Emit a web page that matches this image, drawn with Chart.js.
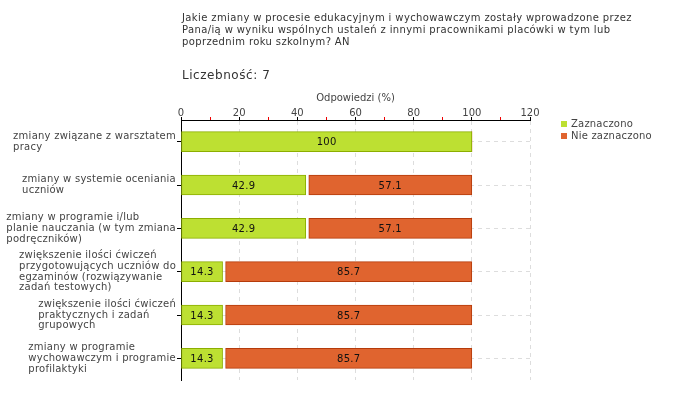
<!DOCTYPE html>
<html>
<head>
<meta charset="utf-8">
<script src="https://cdn.jsdelivr.net/npm/chart.js@4"></script>
<style>
  html, body { margin: 0; padding: 0; background: #fff; }
  #wrap { width: 680px; height: 400px; }
</style>
</head>
<body>
<div id="wrap"><canvas id="chart" width="680" height="400"></canvas></div>
<script>
// Data
const titleLines = [
  "Jakie zmiany w procesie edukacyjnym i wychowawczym zostały wprowadzone przez",
  "Pana/ią w wyniku wspólnych ustaleń z innymi pracownikami placówki w tym lub",
  "poprzednim roku szkolnym? AN"
];
const countLabel = "Liczebność: 7";
const categories = [
  ["zmiany związane z warsztatem", "pracy"],
  ["zmiany w systemie oceniania", "uczniów"],
  ["zmiany w programie i/lub", "planie nauczania (w tym zmiana", "podręczników)"],
  ["zwiększenie ilości ćwiczeń", "przygotowujących uczniów do", "egzaminów (rozwiązywanie", "zadań testowych)"],
  ["zwiększenie ilości ćwiczeń", "praktycznych i zadań", "grupowych"],
  ["zmiany w programie", "wychowawczym i programie", "profilaktyki"]
];
const zaznaczono = [100, 42.9, 42.9, 14.3, 14.3, 14.3];
const nieZaznaczono = [0, 57.1, 57.1, 85.7, 85.7, 85.7];
const xTicks = [0, 20, 40, 60, 80, 100, 120];

const FONT = "'DejaVu Sans', Verdana, sans-serif";
const GREEN = "#bde032", GREEN_BORDER = "#8cae00";
const ORANGE = "#e0642f", ORANGE_BORDER = "#b53b0b";

// small gap between stacked segments
const gapPlugin = {
  id: "gap",
  afterDatasetsUpdate(chart) {
    chart.getDatasetMeta(1).data.forEach((el, i) => {
      if (nieZaznaczono[i]) el.base += 3;
    });
  }
};

// title, count, y labels, bar values, legend
const textPlugin = {
  id: "texts",
  afterDraw(chart) {
    const ctx = chart.ctx;
    ctx.save();
    ctx.textBaseline = "middle";
    ctx.textAlign = "left";

    ctx.fillStyle = "#333";
    ctx.font = "10px " + FONT;
    ctx.letterSpacing = "0.38px";
    titleLines.forEach((t, i) => ctx.fillText(t, 182, 18 + i * 12));
    ctx.font = "12px " + FONT;
    ctx.letterSpacing = "0.55px";
    ctx.fillText(countLabel, 182, 76);

    // category labels, left-aligned block ending at axis
    const y = chart.scales.y;
    ctx.font = "10px " + FONT;
    ctx.letterSpacing = "0.25px";
    ctx.fillStyle = "#444";
    const lh = 10.7;
    categories.forEach((lines, i) => {
      const cy = y.getPixelForValue(i);
      const w = Math.max(...lines.map(l => ctx.measureText(l).width));
      const x0 = 176 - w;
      const y0 = cy - (lines.length - 1) * lh / 2;
      lines.forEach((l, j) => ctx.fillText(l, x0, y0 + j * lh));
    });

    // values in bars
    ctx.letterSpacing = "0.3px";
    ctx.textAlign = "center";
    ctx.fillStyle = "#111";
    ctx.font = "10px " + FONT;
    chart.data.datasets.forEach((ds, di) => {
      chart.getDatasetMeta(di).data.forEach((el, i) => {
        const v = ds.data[i];
        if (!v) return;
        ctx.fillText(v.toFixed(v % 1 ? 1 : 0), (el.x + el.base) / 2, el.y + 1);
      });
    });

    // legend
    ctx.letterSpacing = "0.2px";
    ctx.textAlign = "left";
    ctx.font = "10px " + FONT;
    chart.data.datasets.forEach((ds, i) => {
      const ly = 124 + i * 12;
      ctx.fillStyle = ds.backgroundColor;
      ctx.fillRect(561, ly - 3, 6, 6);
      ctx.fillStyle = "#444";
      ctx.fillText(ds.label, 571, ly);
    });
    ctx.restore();
  }
};

new Chart(document.getElementById("chart"), {
  type: "bar",
  data: {
    labels: categories,
    datasets: [
      {
        label: "Zaznaczono",
        data: zaznaczono,
        backgroundColor: GREEN,
        borderColor: GREEN_BORDER,
        borderWidth: c => (c.raw ? 1 : 0),
        borderSkipped: false,
        barThickness: 20,
      },
      {
        label: "Nie zaznaczono",
        data: nieZaznaczono,
        backgroundColor: ORANGE,
        borderColor: ORANGE_BORDER,
        borderWidth: c => (c.raw ? 1 : 0),
        borderSkipped: false,
        barThickness: 20,
      },
    ],
  },
  options: {
    indexAxis: "y",
    responsive: false,
    animation: false,
    layout: { padding: { top: 88, left: 0, right: 150, bottom: 20 } },
    plugins: { legend: { display: false }, tooltip: { enabled: false } },
    scales: {
      x: {
        position: "top",
        stacked: true,
        min: 0,
        max: 120,
        afterFit: s => { s.height = 32; },
        afterBuildTicks: s => {
          const t = [];
          for (let v = 0; v <= 120; v += 10) t.push({ value: v });
          s.ticks = t;
        },
        ticks: {
          autoSkip: false,
          maxRotation: 0,
          padding: -2,
          color: "#444",
          font: { family: FONT, size: 10 },
          callback: v => (xTicks.includes(v) ? v : ""),
        },
        grid: {
          color: c => (c.tick && xTicks.includes(c.tick.value) ? "#dddddd" : "rgba(0,0,0,0)"),
          tickColor: c => (c.tick && xTicks.includes(c.tick.value) ? "#000" : "#e00"),
          tickLength: 3,
          tickBorderDash: [],
        },
        border: { color: "#000", width: 1, dash: [4, 4] },
        title: {
          display: true,
          text: "Odpowiedzi (%)",
          color: "#444",
          font: { family: FONT, size: 10 },
          padding: { top: 4, bottom: 1 },
        },
      },
      y: {
        stacked: true,
        afterFit: s => { s.width = 181; },
        ticks: { display: false },
        grid: {
          offset: false,
          color: "#dddddd",
          tickColor: "#000",
          tickLength: 4,
          tickBorderDash: [],
        },
        border: { color: "#000", width: 1, dash: [4, 4] },
      },
    },
  },
  plugins: [gapPlugin, textPlugin],
});
</script>
</body>
</html>
